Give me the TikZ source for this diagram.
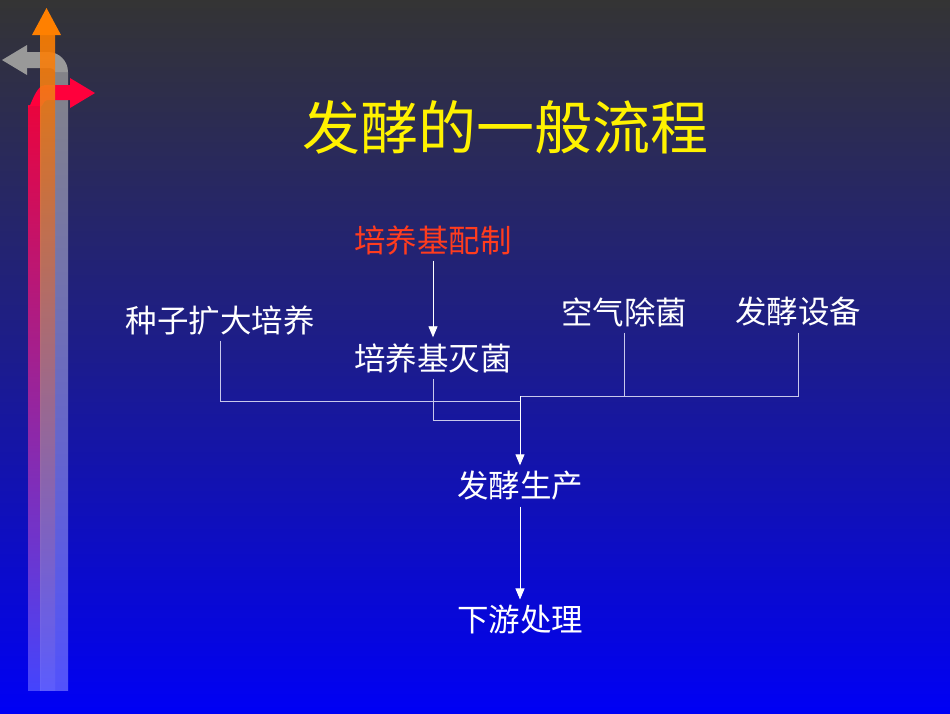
\documentclass[tikz,border=0pt]{standalone}
\usepackage{fontspec}
\usetikzlibrary{arrows.meta}
\newfontfamily\cjk{Noto Sans CJK SC}
\definecolor{bgtop}{RGB}{52,52,52}
\definecolor{bgmid}{RGB}{28,28,140}
\definecolor{bgbot}{RGB}{0,0,245}
\definecolor{dred}{RGB}{255,0,60}
\definecolor{tred}{RGB}{255,60,30}
\definecolor{lnc}{RGB}{200,200,235}
\begin{document}
\begin{tikzpicture}[x=1pt,y=-1pt,
  lbl/.style={font=\cjk\fontsize{31.5}{34}\selectfont, text=white, inner sep=0pt, outer sep=6pt},
  ln/.style={draw=lnc, line width=0.8pt},
  arr/.style={draw=white, line width=0.9pt, -{Triangle[width=9pt,length=11pt]}}]
\shade[top color=bgtop, bottom color=bgbot, middle color=bgmid] (0,0) rectangle (950,713);
\useasboundingbox (0,0) rectangle (950,713);
% left decoration
\shade[top color=gray!80, bottom color=blue!60!white, opacity=0.8] (55,72) rectangle (68,690);
\fill[gray!80] (27,52) -- (48,52) to[out=0,in=90] (68,72) -- (55,72) to[out=90,in=0] (48,68) -- (27,68) -- cycle;
\fill[gray!80] (2,60) -- (27,45) -- (27,75) -- cycle;
\shade[top color=dred, bottom color=blue!70!white, opacity=0.9] (28,105) rectangle (41,690);
\fill[dred] (28,106) to[out=-90,in=180] (45,85) -- (70,85) -- (70,100) -- (47,100) to[out=180,in=-90] (41,106) -- cycle;
\fill[dred] (70,78) -- (95,93) -- (70,108) -- cycle;
\shade[top color=orange, bottom color=blue!60!white, opacity=0.9] (40,35) rectangle (55,690);
\fill[orange] (46.5,8) -- (61,35) -- (32,35) -- cycle;
% title
\node[font=\cjk\fontsize{58}{64}\selectfont, text=yellow] (title) at (505,127) {发酵的一般流程};
% nodes
\node[lbl, text=tred] (pz) at (433,240) {培养基配制};
\node[lbl] (zz) at (220,320) {种子扩大培养};
\node[lbl] (mj) at (433,358) {培养基灭菌};
\node[lbl] (kq) at (624,312) {空气除菌};
\node[lbl] (sb) at (798,312) {发酵设备};
\node[lbl] (sc) at (520,486) {发酵生产};
\node[lbl] (xy) at (520,620) {下游处理};
\coordinate (j) at (520,396);
\draw[arr] (pz) -- (mj);
\draw[ln] (zz.south) |- (520,401);
\draw[ln] (mj.south) |- (520,420);
\draw[ln] (kq.south) -- (kq.south |- j);
\draw[ln] (sb.south) |- (j);
\draw[arr] (j) -- (sc.north);
\draw[arr] (sc) -- (xy);
\end{tikzpicture}
\end{document}
